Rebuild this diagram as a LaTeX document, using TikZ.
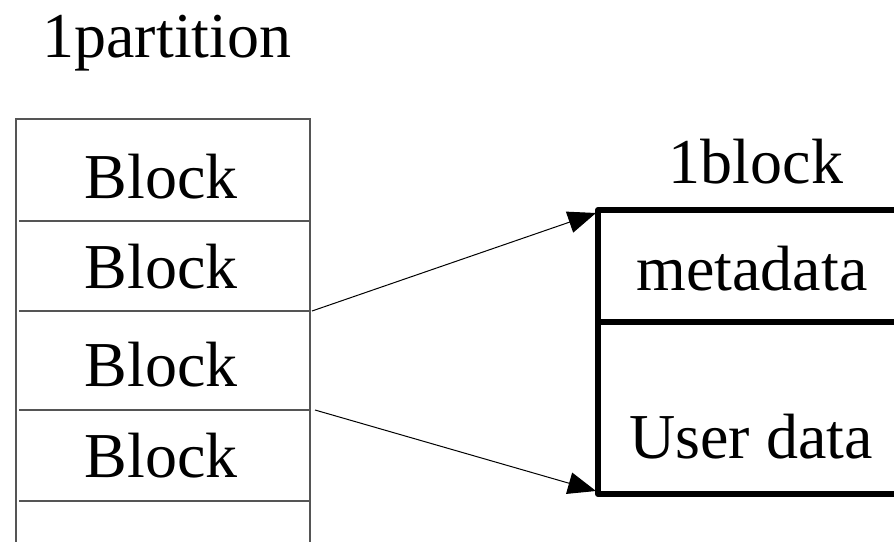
\documentclass[tikz,border=0pt]{standalone}
\usepackage{fontspec}
\setmainfont{Liberation Serif}
\usetikzlibrary{arrows.meta}
\definecolor{gridgray}{HTML}{555555}
\tikzset{
  label/.style={anchor=base, inner sep=0pt, font=\fontsize{64}{70}\selectfont},
  tableline/.style={draw=gridgray, line width=1.3pt},
  blockline/.style={draw=black, line width=6pt, line cap=round, line join=round},
  pointer/.style={draw=black, line width=1pt, -{Triangle[length=28pt,width=22pt]}}
}
\begin{document}
\begin{tikzpicture}[x=1pt,y=-1pt]
  \useasboundingbox (0,0) rectangle (894,541);

  % partition table
  \node[label] (ptitle) at (167,57) {1partition};
  \draw[tableline] (16,545) -- (16,119) -- (310,119) -- (310,545);
  \draw[tableline] (19,221) -- (310,221);
  \draw[tableline] (19,311) -- (310,311);
  \draw[tableline] (19,410) -- (310,410);
  \draw[tableline] (19,501) -- (310,501);
  \node[label] (b1) at (161,198) {Block};
  \node[label] (b2) at (161,288) {Block};
  \node[label] (b3) at (161,386) {Block};
  \node[label] (b4) at (161,477) {Block};
  \coordinate (out1) at (312,311);
  \coordinate (out2) at (315,410);

  % one block
  \node[label] (btitle) at (756,183) {1block};
  \draw[blockline] (900,210) -- (598,210) -- (598,494) -- (900,494);
  \draw[blockline] (598,322) -- (900,322);
  \node[label] (meta) at (752,290) {metadata};
  \node[label] (user) at (751,458) {User data};
  \coordinate (in1) at (596,213);
  \coordinate (in2) at (596,491);

  % pointers from partition to block
  \draw[pointer] (out1) -- (in1);
  \draw[pointer] (out2) -- (in2);
\end{tikzpicture}
\end{document}
